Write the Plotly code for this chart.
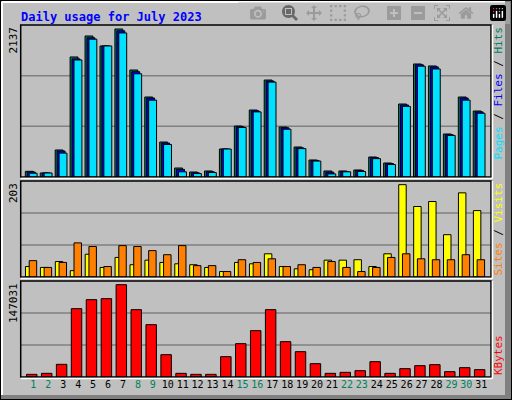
import plotly.graph_objects as go

days = list(range(1, 32))
hits = [82,58,390,1733,2036,1892,2137,1545,1155,505,130,72,87,404,736,967,1400,722,433,245,87,87,101,289,202,1054,1632,1603,621,1155,953]
files = [72,58,375,1705,2010,1892,2110,1520,1140,490,110,60,75,404,725,955,1385,710,420,240,70,80,95,280,195,1040,1620,1590,610,1140,940]
pages = [55,58,345,1690,1990,1892,2080,1490,1110,470,75,50,65,404,715,940,1370,690,410,230,45,75,80,265,180,1020,1600,1560,600,1110,920]
visits = [23,21,34,14,50,21,43,27,37,32,29,27,21,12,32,29,51,23,18,16,37,37,38,23,51,203,155,166,93,185,146]
sites = [36,21,32,75,67,23,69,67,58,49,69,25,25,12,38,32,40,23,27,21,34,21,12,21,43,51,40,38,38,49,38]
kbytes = [4250,5840,20170,108810,123140,124730,147031,107220,83330,35560,5840,4250,4250,32380,53080,73780,107220,56260,40340,21230,5840,7430,10090,24420,5840,13270,18050,19640,8490,14860,11680]
weekend = {1,2,8,9,15,16,22,23,29,30}
ticktext = [f'<span style="color:{"#00805C" if d in weekend else "#000000"}">{d}</span>' for d in days]

fig = go.Figure()
line = dict(color="black", width=1)
def bar(y, color, off, w, ax):
    fig.add_trace(go.Bar(x=days, y=y, offset=off, width=w, marker=dict(color=color, line=line),
                         xaxis="x", yaxis=ax, showlegend=False, hoverinfo="skip"))
bar(hits, "#00805C", -0.54, 0.53, "y")
bar(files, "#0000FF", -0.41, 0.53, "y")
bar(pages, "#00E0FF", -0.28, 0.53, "y")
bar(visits, "#FFFF00", -0.53, 0.5, "y2")
bar(sites, "#FF8000", -0.28, 0.5, "y2")
bar(kbytes, "#FF0000", -0.46, 0.7, "y3")

W, H = 512, 400
x0, x1 = 20.7/W, 491/W
doms = {"y": (25, 177), "y2": (181, 277), "y3": (281, 377)}
mx = {"y": 2137*152/148, "y2": 203*288/277, "y3": 147031*288/277}
layout = dict(width=W, height=H, margin=dict(l=0, r=0, t=0, b=0), paper_bgcolor="#C0C0C0",
              plot_bgcolor="#C0C0C0", barmode="overlay", font=dict(family="DejaVu Sans Mono", size=10))
layout["xaxis"] = dict(domain=[x0, x1], range=[0.15, 31.65], tickvals=days, ticktext=ticktext,
                       showgrid=False, zeroline=False, anchor="y3", ticks="", tickfont=dict(size=10, color="black"))
shapes = []
for k, (t, b) in doms.items():
    name = "yaxis" if k == "y" else "yaxis" + k[1:]
    m = mx[k]
    layout[name] = dict(domain=[1-b/H, 1-t/H], range=[0, m], showticklabels=False, showgrid=False,
                        zeroline=False, anchor="x")
    for f in (1/3, 2/3):
        shapes.append(dict(type="line", xref="paper", yref=k, x0=x0, x1=x1, y0=m*f, y1=m*f,
                           line=dict(color="#808080", width=1.5), layer="below"))
    shapes.append(dict(type="rect", xref="paper", yref="paper", x0=x0, x1=x1, y0=1-b/H, y1=1-t/H,
                       line=dict(color="black", width=1.5)))
    shapes.append(dict(type="line", xref="paper", yref="paper", x0=x1+1.5/W, x1=x1+1.5/W, y0=1-b/H-1.5/H, y1=1-t/H,
                       line=dict(color="white", width=1.5)))
    shapes.append(dict(type="line", xref="paper", yref="paper", x0=x0, x1=x1+1.5/W, y0=1-b/H-1.5/H, y1=1-b/H-1.5/H,
                       line=dict(color="white", width=1.5)))
# outer frame
shapes.append(dict(type="rect", xref="paper", yref="paper", x0=505/W, x1=1, y0=0, y1=1, fillcolor="#808080", line=dict(width=0), layer="below"))
shapes.append(dict(type="rect", xref="paper", yref="paper", x0=0, x1=1, y0=0, y1=5/H, fillcolor="#808080", line=dict(width=0), layer="below"))
shapes.append(dict(type="rect", xref="paper", yref="paper", x0=0, x1=1, y0=0, y1=1, line=dict(color="black", width=2)))
shapes.append(dict(type="line", xref="paper", yref="paper", x0=2/W, x1=2/W, y0=5/H, y1=1-2/H, line=dict(color="white", width=2)))
shapes.append(dict(type="line", xref="paper", yref="paper", x0=2/W, x1=505/W, y0=1-2/H, y1=1-2/H, line=dict(color="white", width=2)))
layout["shapes"] = shapes

ann = [dict(text="<b>Daily usage for July 2023</b>", x=19/W, y=1-8/H, xanchor="left", yanchor="top",
            font=dict(color="#0000FF", size=12, family="DejaVu Sans Mono"))]
for lab, top in (("2137", 25), ("203", 181), ("147031", 281)):
    ann.append(dict(text=lab, textangle=-90, x=13/W, y=1-top/H, xanchor="center", yanchor="top",
                    font=dict(size=11, color="black")))
def c(t, col): return f'<span style="color:{col}">{t}</span>'
ann.append(dict(text=c("Pages", "#00E0FF")+" / "+c("Files", "#0000FF")+" / "+c("Hits", "#00805C"),
                textangle=-90, x=498/W, y=1-25/H, xanchor="center", yanchor="top", font=dict(size=11, color="black")))
ann.append(dict(text=c("Sites", "#FF8000")+" / "+c("Visits", "#FFFF00"),
                textangle=-90, x=498/W, y=1-181/H, xanchor="center", yanchor="top", font=dict(size=11, color="black")))
ann.append(dict(text=c("KBytes", "#FF0000"), textangle=-90, x=498/W, y=1-377/H, xanchor="center", yanchor="bottom",
                font=dict(size=11)))
for a in ann:
    a.update(xref="paper", yref="paper", showarrow=False)
layout["annotations"] = ann
fig.update_layout(**layout)
fig.write_html("out.html", post_script="document.body.style.margin='0';document.body.style.overflow='hidden';")
